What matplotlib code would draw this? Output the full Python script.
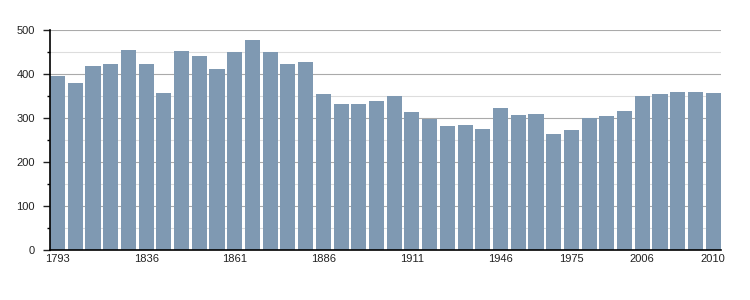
import matplotlib
matplotlib.use("Agg")
import matplotlib.pyplot as plt
from matplotlib.ticker import MultipleLocator

# census years and population
years = [1793, 1800, 1806, 1821, 1831, 1836, 1841, 1846, 1851, 1856,
         1861, 1866, 1872, 1876, 1881, 1886, 1891, 1896, 1901, 1906,
         1911, 1921, 1926, 1931, 1936, 1946, 1954, 1962, 1968, 1975,
         1982, 1990, 1999, 2006, 2007, 2008, 2009, 2010]
population = [396, 380, 419, 423, 455, 423, 357, 453, 442, 412,
              451, 478, 451, 423, 428, 355, 332, 332, 339, 351,
              314, 298, 282, 285, 275, 323, 307, 310, 264, 273,
              300, 305, 316, 351, 355, 360, 360, 357]
labelled_years = [1793, 1836, 1861, 1886, 1911, 1946, 1975, 2006, 2010]

BAR_COLOR = "#7f99b2"
BAR_W = 0.85

plt.rcParams["font.family"] = ["Liberation Sans", "DejaVu Sans"]

fig = plt.figure(figsize=(7.5, 3.0), dpi=100)
ax = fig.add_axes([50 / 750, 50 / 300, 670.7 / 750, 220 / 300])

x = list(range(len(years)))
ax.bar(x, population, width=BAR_W, color=BAR_COLOR, zorder=3)

ax.set_ylim(0, 500)
ax.set_xlim(-BAR_W / 2, len(years) - 1 + BAR_W / 2)

ax.yaxis.set_major_locator(MultipleLocator(100))
ax.yaxis.set_minor_locator(MultipleLocator(50))
ax.grid(axis="y", which="major", color="#aaaaaa", linewidth=0.8, zorder=1)
ax.grid(axis="y", which="minor", color="#dddddd", linewidth=0.8, zorder=1)

ax.set_xticks([years.index(y) for y in labelled_years])
ax.set_xticklabels([str(y) for y in labelled_years])
ax.tick_params(axis="x", length=0, pad=3, labelsize=8, colors="#222222")
ax.tick_params(axis="y", which="major", length=5, width=1, pad=6,
               labelsize=8, colors="#222222")
ax.tick_params(axis="y", which="minor", length=2.5, width=1)

for side in ("top", "right"):
    ax.spines[side].set_visible(False)
for side in ("left", "bottom"):
    ax.spines[side].set_color("black")
    ax.spines[side].set_linewidth(1.2)
    ax.spines[side].set_zorder(4)

fig.savefig("out.png", dpi=100)
